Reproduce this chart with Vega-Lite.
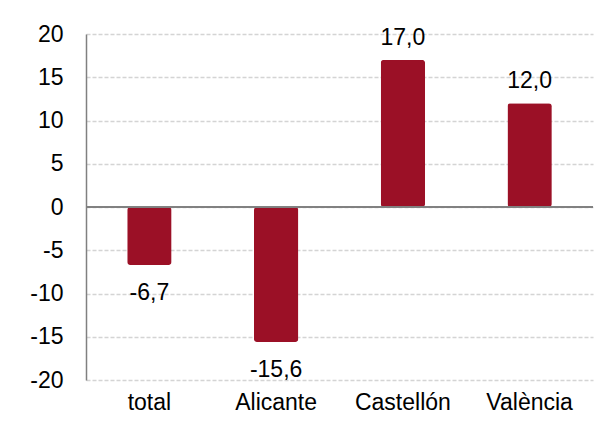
{
  "$schema": "https://vega.github.io/schema/vega-lite/v6.json",
  "width": 507,
  "height": 346,
  "autosize": {"type": "none"},
  "padding": {"left": 86, "top": 34, "right": 15, "bottom": 56},
  "background": "white",
  "config": {
    "font": "Liberation Sans",
    "view": {"stroke": null},
    "locale": {"number": {"decimal": ",", "thousands": ".", "grouping": [3], "currency": ["", " €"], "minus": "-"}}
  },
  "data": {"values": [
    {"region": "total", "value": -6.7},
    {"region": "Alicante", "value": -15.6},
    {"region": "Castellón", "value": 17.0},
    {"region": "València", "value": 12.0}
  ]},
  "encoding": {
    "x": {"field": "region", "type": "nominal", "sort": null,
      "scale": {"paddingInner": 0.65, "paddingOuter": 0.325},
      "axis": {"title": null, "labelAngle": 0, "domain": false, "ticks": false, "labelPadding": 11, "labelFontSize": 23, "labelColor": "#000000", "labelFont": "Liberation Sans"}}
  },
  "layer": [
    {
      "mark": {"type": "bar", "color": "#9B1026", "cornerRadius": 3},
      "encoding": {
        "y": {"field": "value", "type": "quantitative",
          "scale": {"domain": [-20, 20], "nice": false},
          "axis": {"title": null, "values": [-20, -15, -10, -5, 0, 5, 10, 15, 20], "format": "d",
            "grid": true, "gridColor": "#D4D4D4", "gridDash": [4, 2], "gridWidth": 1.5,
            "domainColor": "#808080", "domainWidth": 1.5, "ticks": false, "labelPadding": 23,
            "labelFontSize": 23, "labelColor": "#000000", "labelFont": "Liberation Sans"}}
      }
    },
    {
      "mark": {"type": "rule", "color": "#808080", "strokeWidth": 1.5},
      "encoding": {"x": null, "y": {"datum": 0, "type": "quantitative"}}
    },
    {
      "transform": [{"filter": "datum.value >= 0"}],
      "mark": {"type": "text", "baseline": "alphabetic", "dy": -15, "fontSize": 23, "color": "#000000"},
      "encoding": {
        "y": {"field": "value", "type": "quantitative"},
        "text": {"field": "value", "type": "quantitative", "format": ".1f"}
      }
    },
    {
      "transform": [{"filter": "datum.value < 0"}],
      "mark": {"type": "text", "baseline": "alphabetic", "dy": 35, "fontSize": 23, "color": "#000000"},
      "encoding": {
        "y": {"field": "value", "type": "quantitative"},
        "text": {"field": "value", "type": "quantitative", "format": ".1f"}
      }
    }
  ]
}
